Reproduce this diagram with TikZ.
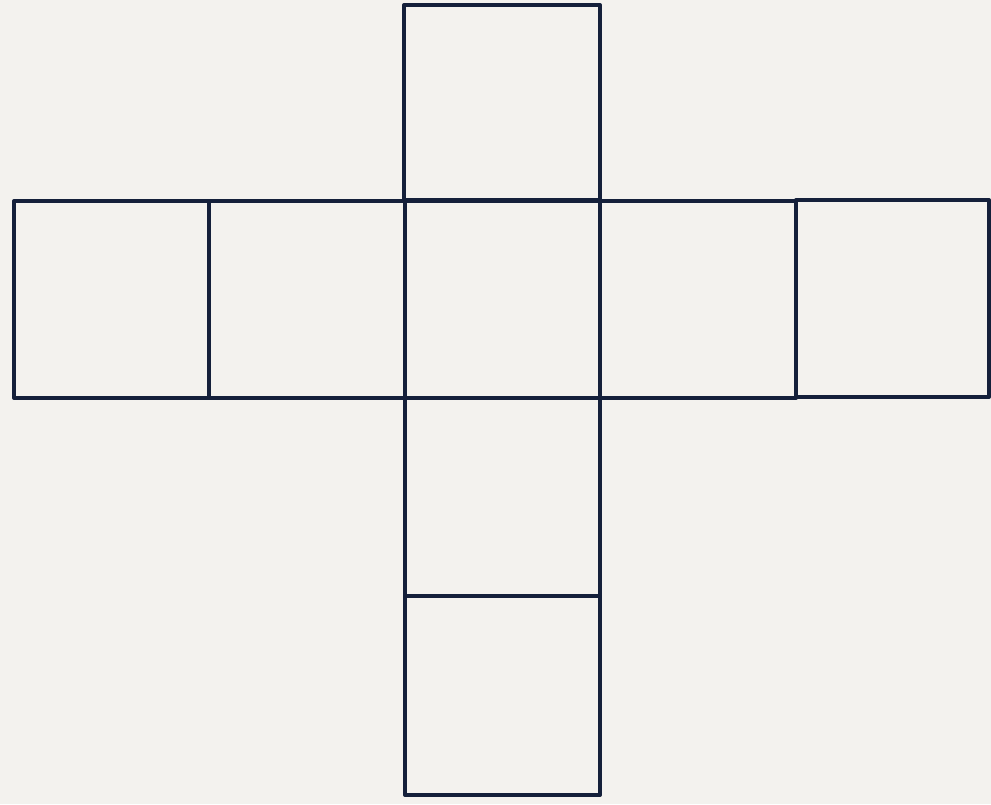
\documentclass[tikz,border=0pt]{standalone}
\definecolor{paper}{HTML}{F3F2EE}
\definecolor{ink}{HTML}{14203A}
\begin{document}
\begin{tikzpicture}[x=1pt,y=-1pt,
  cell/.style={draw=ink,line width=4pt,line join=round,line cap=round}]
\fill[paper] (0,0) rectangle (991,804);
\useasboundingbox (0,0) rectangle (991,804);
% top square
\draw[cell] (404,5) rectangle (600,200);
% middle row
\draw[cell] (14,201) rectangle (209,398);
\draw[cell] (209,201) rectangle (405,398);
\draw[cell] (405,201) rectangle (600,398);
\draw[cell] (600,201) rectangle (796,398);
\draw[cell] (796,200) rectangle (989,397);
% lower column
\draw[cell] (405,398) rectangle (600,596);
\draw[cell] (405,596) rectangle (600,795);
\end{tikzpicture}
\end{document}
